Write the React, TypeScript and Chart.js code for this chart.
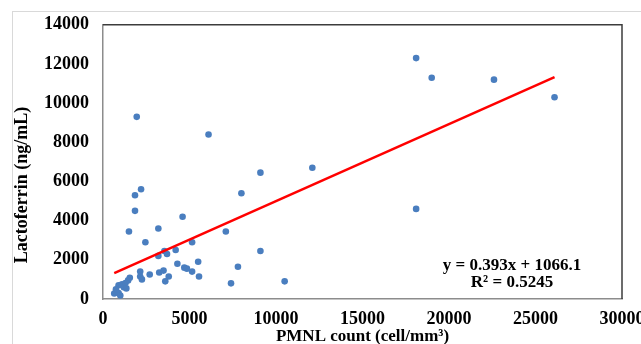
import React, { useEffect, useRef } from "react";
import { Chart, registerables } from "chart.js";
Chart.register(...registerables);

// PMNL count (cell/mm³)
const pmnl: number[] = [
  18100, 19000, 22600, 26100, 6100, 12100, 9100, 8000, 18100, 7100,
  9100, 7800, 7400, 10500, 1950, 2200, 1850, 1850, 4600, 1500,
  3200, 2450, 5150, 4200, 3550, 3700, 3200, 5500, 4300, 4700,
  4850, 5150, 5550, 3800, 3600, 2150, 2150, 2250, 2700, 3250,
  3500, 650, 900, 1000, 900, 1100, 1200, 1300, 1450, 1550,
  1350, 750,
];
// Lactoferrin (ng/mL)
const lactoferrin: number[] = [
  12300, 11300, 11200, 10300, 8400, 6700, 6450, 5400, 4600, 3450,
  2450, 1650, 800, 900, 9300, 5600, 5300, 4500, 4200, 3450,
  3600, 2900, 2900, 2500, 2450, 2300, 2200, 1900, 1800, 1600,
  1550, 1400, 1150, 1150, 900, 1400, 1150, 1000, 1250, 1350,
  1450, 280, 300, 180, 700, 750, 600, 820, 950, 1080,
  540, 500,
];
const slope = 0.393;
const intercept = 1066.1;
const equationLines = ["y = 0.393x + 1066.1", "R² = 0.5245"];
const xTitle = "PMNL count (cell/mm³)";
const yTitle = "Lactoferrin (ng/mL)";

const FONT = "'Liberation Serif', 'Times New Roman', serif";

export default function App() {
  const ref = useRef<HTMLCanvasElement | null>(null);
  useEffect(() => {
    if (!ref.current) return;
    const points = pmnl.map((x, i) => ({ x, y: lactoferrin[i] }));
    const xMin = Math.min(...pmnl);
    const xMax = Math.max(...pmnl);
    const trend = [
      { x: xMin, y: slope * xMin + intercept },
      { x: xMax, y: slope * xMax + intercept },
    ];
    const framePlugin = {
      id: "frame",
      beforeDatasetsDraw(chart: any) {
        const { ctx, chartArea: a } = chart;
        ctx.save();
        ctx.strokeStyle = "#3c3c3c";
        ctx.lineWidth = 1.5;
        ctx.beginPath();
        ctx.moveTo(a.left, a.top);
        ctx.lineTo(a.right, a.top);
        ctx.lineTo(a.right, a.bottom);
        ctx.stroke();
        ctx.restore();
      },
      afterDraw(chart: any) {
        const { ctx, chartArea: a } = chart;
        ctx.save();
        ctx.fillStyle = "#000";
        ctx.font = `bold 17px ${FONT}`;
        ctx.textAlign = "center";
        ctx.textBaseline = "alphabetic";
        const cx = a.left + 409;
        ctx.fillText(equationLines[0], cx, a.top + 245);
        ctx.fillText(equationLines[1], cx, a.top + 262);
        // y-axis title
        ctx.font = `bold 18px ${FONT}`;
        ctx.textBaseline = "middle";
        ctx.translate(22, 185);
        ctx.rotate(-Math.PI / 2);
        ctx.fillText(yTitle, 0, 0);
        ctx.restore();
      },
    };
    const fmt = (v: any) => String(v);
    const chart = new Chart(ref.current, {
      type: "scatter",
      data: {
        datasets: [
          {
            data: points,
            backgroundColor: "#4a7ebf",
            borderWidth: 0,
            pointRadius: 3.3,
            order: 2,
          },
          {
            data: trend,
            showLine: true,
            borderColor: "#ff0000",
            borderWidth: 2.5,
            pointRadius: 0,
            order: 1,
          } as any,
        ],
      },
      options: {
        animation: false,
        responsive: false,
        maintainAspectRatio: false,
        layout: { padding: { left: 0, top: 21, right: 58, bottom: 0 } },
        plugins: { legend: { display: false }, tooltip: { enabled: false } },
        scales: {
          x: {
            type: "linear",
            min: 0,
            max: 30000,
            afterFit: (s: any) => { s.height = 45; },
            ticks: {
              stepSize: 5000,
              color: "#000",
              padding: 10,
              maxRotation: 0,
              callback: fmt,
              font: { family: FONT, size: 18, weight: "bold" },
            },
            grid: { display: false, drawTicks: false },
            border: { display: true, color: "#8c8c8c", width: 1.5 },
            title: {
              display: true,
              text: xTitle,
              color: "#000",
              padding: { top: 0, bottom: -1 },
              font: { family: FONT, size: 17, weight: "bold", lineHeight: 1 },
            },
          },
          y: {
            type: "linear",
            min: 0,
            max: 14000,
            afterFit: (s: any) => { s.width = 103; },
            ticks: {
              stepSize: 2000,
              color: "#000",
              padding: 14,
              callback: fmt,
              font: { family: FONT, size: 18, weight: "bold" },
            },
            grid: { display: false, drawTicks: false },
            border: { display: true, color: "#8c8c8c", width: 1.5 },
          },
        },
      },
      plugins: [framePlugin],
    });
    return () => chart.destroy();
  }, []);
  return (
    <div style={{ position: "fixed", left: 0, top: 0, width: 641, height: 344, overflow: "hidden", background: "#fff" }}>
      <div style={{ position: "absolute", left: 12, top: 11, width: 700, height: 400, border: "1px solid #d9d9d9" }} />
      <canvas ref={ref} width={680} height={344} style={{ position: "absolute", left: 0, top: 0, width: 680, height: 344 }} />
    </div>
  );
}
